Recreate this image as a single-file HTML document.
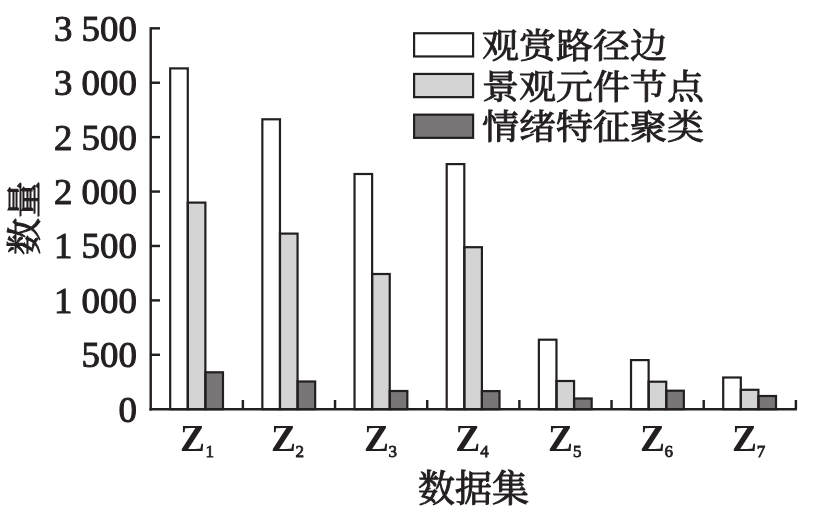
<!DOCTYPE html>
<html><head><meta charset="utf-8"><style>
html,body{margin:0;padding:0;background:#fff;overflow:hidden;}
svg{display:block;will-change:transform;}
.num{font-family:"Liberation Serif",serif;font-size:36.8px;fill:#231f20;stroke:#231f20;stroke-width:1px;}
.zb{font-family:"Liberation Serif",serif;font-size:37.5px;font-weight:bold;fill:#231f20;}
.sub{font-family:"Liberation Serif",serif;fill:#231f20;font-size:17px;stroke:#231f20;stroke-width:0.8px;}
.cjk{font-family:"Liberation Serif","Noto Serif CJK SC",serif;font-size:37px;font-weight:400;fill:#231f20;stroke:#231f20;stroke-width:1px;}
</style></head><body>
<svg width="823" height="517" viewBox="0 0 823 517">
<rect x="170.19" y="68.40" width="17.60" height="340.80" fill="#ffffff"/>
<rect x="187.78" y="202.60" width="17.60" height="206.60" fill="#d4d4d4"/>
<rect x="205.38" y="372.30" width="17.60" height="36.90" fill="#787677"/>
<rect x="170.19" y="68.40" width="17.60" height="340.80" fill="none" stroke="#231f20" stroke-width="2.2"/>
<rect x="187.78" y="202.60" width="17.60" height="206.60" fill="none" stroke="#231f20" stroke-width="2.2"/>
<rect x="205.38" y="372.30" width="17.60" height="36.90" fill="none" stroke="#231f20" stroke-width="2.2"/>
<rect x="262.36" y="119.30" width="17.60" height="289.90" fill="#ffffff"/>
<rect x="279.96" y="233.60" width="17.60" height="175.60" fill="#d4d4d4"/>
<rect x="297.56" y="381.50" width="17.60" height="27.70" fill="#787677"/>
<rect x="262.36" y="119.30" width="17.60" height="289.90" fill="none" stroke="#231f20" stroke-width="2.2"/>
<rect x="279.96" y="233.60" width="17.60" height="175.60" fill="none" stroke="#231f20" stroke-width="2.2"/>
<rect x="297.56" y="381.50" width="17.60" height="27.70" fill="none" stroke="#231f20" stroke-width="2.2"/>
<rect x="354.53" y="174.00" width="17.60" height="235.20" fill="#ffffff"/>
<rect x="372.13" y="274.00" width="17.60" height="135.20" fill="#d4d4d4"/>
<rect x="389.73" y="391.00" width="17.60" height="18.20" fill="#787677"/>
<rect x="354.53" y="174.00" width="17.60" height="235.20" fill="none" stroke="#231f20" stroke-width="2.2"/>
<rect x="372.13" y="274.00" width="17.60" height="135.20" fill="none" stroke="#231f20" stroke-width="2.2"/>
<rect x="389.73" y="391.00" width="17.60" height="18.20" fill="none" stroke="#231f20" stroke-width="2.2"/>
<rect x="446.70" y="164.10" width="17.60" height="245.10" fill="#ffffff"/>
<rect x="464.30" y="247.20" width="17.60" height="162.00" fill="#d4d4d4"/>
<rect x="481.90" y="391.10" width="17.60" height="18.10" fill="#787677"/>
<rect x="446.70" y="164.10" width="17.60" height="245.10" fill="none" stroke="#231f20" stroke-width="2.2"/>
<rect x="464.30" y="247.20" width="17.60" height="162.00" fill="none" stroke="#231f20" stroke-width="2.2"/>
<rect x="481.90" y="391.10" width="17.60" height="18.10" fill="none" stroke="#231f20" stroke-width="2.2"/>
<rect x="538.87" y="339.70" width="17.60" height="69.50" fill="#ffffff"/>
<rect x="556.47" y="381.00" width="17.60" height="28.20" fill="#d4d4d4"/>
<rect x="574.07" y="398.50" width="17.60" height="10.70" fill="#787677"/>
<rect x="538.87" y="339.70" width="17.60" height="69.50" fill="none" stroke="#231f20" stroke-width="2.2"/>
<rect x="556.47" y="381.00" width="17.60" height="28.20" fill="none" stroke="#231f20" stroke-width="2.2"/>
<rect x="574.07" y="398.50" width="17.60" height="10.70" fill="none" stroke="#231f20" stroke-width="2.2"/>
<rect x="631.03" y="360.10" width="17.60" height="49.10" fill="#ffffff"/>
<rect x="648.63" y="381.70" width="17.60" height="27.50" fill="#d4d4d4"/>
<rect x="666.24" y="390.70" width="17.60" height="18.50" fill="#787677"/>
<rect x="631.03" y="360.10" width="17.60" height="49.10" fill="none" stroke="#231f20" stroke-width="2.2"/>
<rect x="648.63" y="381.70" width="17.60" height="27.50" fill="none" stroke="#231f20" stroke-width="2.2"/>
<rect x="666.24" y="390.70" width="17.60" height="18.50" fill="none" stroke="#231f20" stroke-width="2.2"/>
<rect x="723.21" y="377.50" width="17.60" height="31.70" fill="#ffffff"/>
<rect x="740.81" y="389.80" width="17.60" height="19.40" fill="#d4d4d4"/>
<rect x="758.41" y="396.00" width="17.60" height="13.20" fill="#787677"/>
<rect x="723.21" y="377.50" width="17.60" height="31.70" fill="none" stroke="#231f20" stroke-width="2.2"/>
<rect x="740.81" y="389.80" width="17.60" height="19.40" fill="none" stroke="#231f20" stroke-width="2.2"/>
<rect x="758.41" y="396.00" width="17.60" height="13.20" fill="none" stroke="#231f20" stroke-width="2.2"/>
<path d="M150.7 27.13 V410.40" stroke="#231f20" stroke-width="2.45" fill="none"/>
<path d="M149.5 409.3 H796.89" stroke="#231f20" stroke-width="2.45" fill="none"/>
<path d="M150.7 354.79 H160" stroke="#231f20" stroke-width="2.45" fill="none"/>
<path d="M150.7 300.38 H160" stroke="#231f20" stroke-width="2.45" fill="none"/>
<path d="M150.7 245.97 H160" stroke="#231f20" stroke-width="2.45" fill="none"/>
<path d="M150.7 191.56 H160" stroke="#231f20" stroke-width="2.45" fill="none"/>
<path d="M150.7 137.15 H160" stroke="#231f20" stroke-width="2.45" fill="none"/>
<path d="M150.7 82.74 H160" stroke="#231f20" stroke-width="2.45" fill="none"/>
<path d="M150.7 28.33 H160" stroke="#231f20" stroke-width="2.45" fill="none"/>
<path d="M242.87 400 V409.2" stroke="#231f20" stroke-width="2.45" fill="none"/>
<path d="M335.04 400 V409.2" stroke="#231f20" stroke-width="2.45" fill="none"/>
<path d="M427.21 400 V409.2" stroke="#231f20" stroke-width="2.45" fill="none"/>
<path d="M519.38 400 V409.2" stroke="#231f20" stroke-width="2.45" fill="none"/>
<path d="M611.55 400 V409.2" stroke="#231f20" stroke-width="2.45" fill="none"/>
<path d="M703.72 400 V409.2" stroke="#231f20" stroke-width="2.45" fill="none"/>
<path d="M795.89 400 V409.2" stroke="#231f20" stroke-width="2.45" fill="none"/>
<text x="136.8" y="421.70" class="num" text-anchor="end">0</text>
<text x="136.8" y="367.29" class="num" text-anchor="end">500</text>
<text x="136.8" y="312.88" class="num" text-anchor="end">1 000</text>
<text x="136.8" y="258.47" class="num" text-anchor="end">1 500</text>
<text x="136.8" y="204.06" class="num" text-anchor="end">2 000</text>
<text x="136.8" y="149.65" class="num" text-anchor="end">2 500</text>
<text x="136.8" y="95.24" class="num" text-anchor="end">3 000</text>
<text x="136.8" y="40.83" class="num" text-anchor="end">3 500</text>
<text x="179.90" y="450.9" class="zb">Z</text>
<text x="205.61" y="457.3" class="sub">1</text>
<text x="270.90" y="450.9" class="zb">Z</text>
<text x="295.55" y="457.3" class="sub">2</text>
<text x="363.90" y="450.9" class="zb">Z</text>
<text x="388.49" y="457.3" class="sub">3</text>
<text x="455.35" y="450.9" class="zb">Z</text>
<text x="480.17" y="457.3" class="sub">4</text>
<text x="547.90" y="450.9" class="zb">Z</text>
<text x="573.11" y="457.3" class="sub">5</text>
<text x="639.90" y="450.9" class="zb">Z</text>
<text x="664.57" y="457.3" class="sub">6</text>
<text x="732.10" y="450.9" class="zb">Z</text>
<text x="756.78" y="457.3" class="sub">7</text>
<rect x="414.1" y="33.25" width="59" height="23.2" fill="#ffffff" stroke="#231f20" stroke-width="2.2"/>
<rect x="414.1" y="73.95" width="59" height="23.2" fill="#d4d4d4" stroke="#231f20" stroke-width="2.2"/>
<rect x="414.1" y="114.65" width="59" height="23.2" fill="#787677" stroke="#231f20" stroke-width="2.2"/>
<text transform="translate(482 58.05) scale(1 0.92)" class="cjk">观赏路径边</text>
<text transform="translate(482 98.75) scale(1 0.92)" class="cjk">景观元件节点</text>
<text transform="translate(482 139.45) scale(1 0.92)" class="cjk">情绪特征聚类</text>
<text x="473.5" y="501.5" class="cjk" text-anchor="middle">数据集</text>
<text transform="translate(37 218) rotate(-90) scale(1 0.96)" class="cjk" text-anchor="middle">数量</text>
</svg>
</body></html>
